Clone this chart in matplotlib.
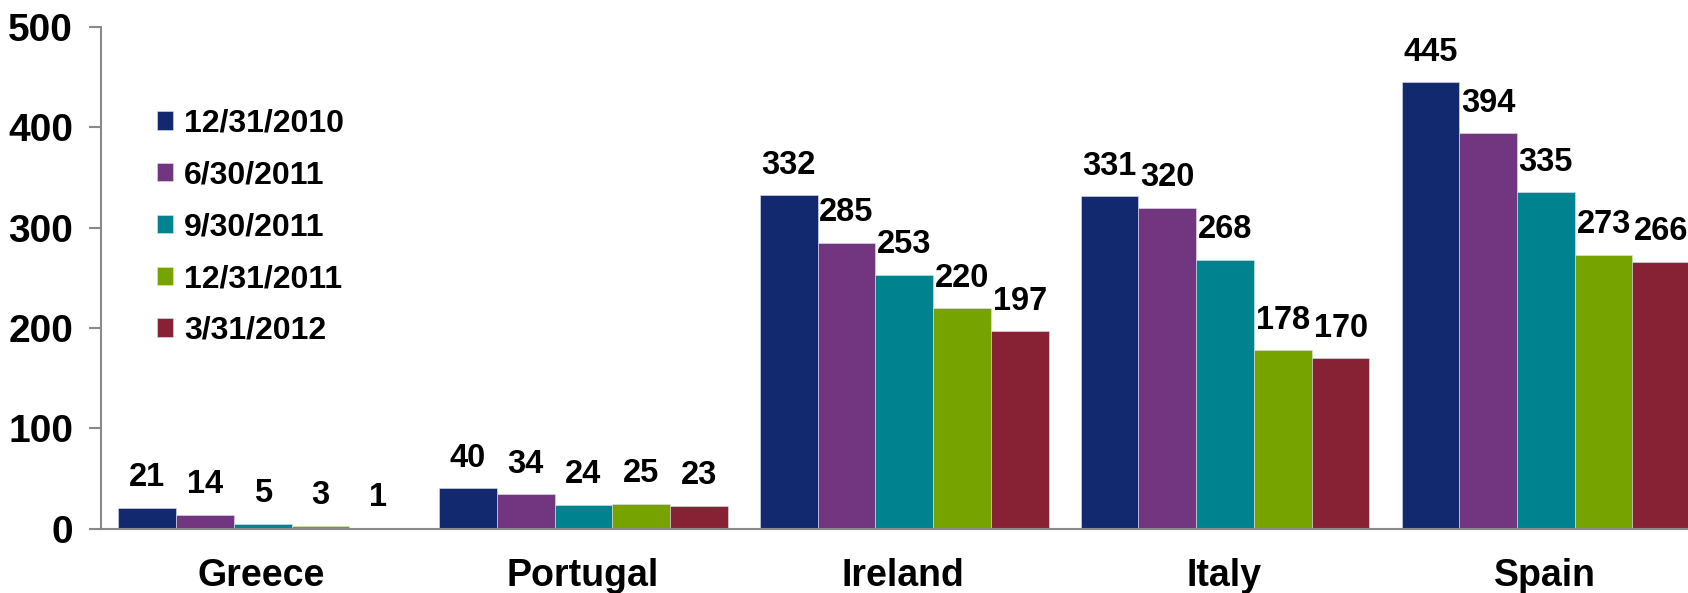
import matplotlib.pyplot as plt
import numpy as np

plt.rcParams['font.family'] = ['Liberation Sans', 'DejaVu Sans']
plt.rcParams['font.weight'] = 'bold'

countries = ['Greece', 'Portugal', 'Ireland', 'Italy', 'Spain']
dates = ['12/31/2010', '6/30/2011', '9/30/2011', '12/31/2011', '3/31/2012']
v_dec2010 = [21, 40, 332, 331, 445]
v_jun2011 = [14, 34, 285, 320, 394]
v_sep2011 = [5, 24, 253, 268, 335]
v_dec2011 = [3, 25, 220, 178, 273]
v_mar2012 = [1, 23, 197, 170, 266]
series = [v_dec2010, v_jun2011, v_sep2011, v_dec2011, v_mar2012]
colors = ['#13296F', '#72357F', '#00838F', '#76A300', '#862234']

fig = plt.figure(figsize=(16.88, 5.93), dpi=100)
# axes run a little past the right edge of the figure, as in the original
ax = fig.add_axes([101 / 1688, 0.1086, 1604 / 1688, 0.846])

x = np.arange(len(countries))
w = 0.9 / 5
for i, (vals, c, lab) in enumerate(zip(series, colors, dates)):
    pos = x - 0.9 / 2 + w * (i + 0.5) + 0.004
    ax.bar(pos, vals, width=w, color=c, label=lab, edgecolor='#dfe3ea', linewidth=0.4)
    for p, v in zip(pos, vals):
        ax.annotate(str(v), (p, v), xytext=(0, 21.5), textcoords='offset points',
                    ha='center', va='center', fontsize=23.5, fontweight='bold')

ax.set_xlim(-0.5, 4.5)
ax.set_ylim(0, 500)
ax.set_yticks(range(0, 501, 100))
ax.set_xticks(x)
ax.set_xticklabels(countries, fontsize=27, fontweight='bold')
ax.tick_params(axis='x', length=0, pad=21)
ax.tick_params(axis='y', labelsize=28, length=9, width=1.5, color='#898989', pad=11)
for lbl in ax.get_yticklabels():
    lbl.set_fontweight('bold')

for s in ['top', 'right']:
    ax.spines[s].set_visible(False)
for s in ['left', 'bottom']:
    ax.spines[s].set_color('#898989')
    ax.spines[s].set_linewidth(1.5)

leg = ax.legend(loc='upper left', bbox_to_anchor=(0.027, 0.862), frameon=False,
                prop={'size': 23, 'weight': 'bold'}, handlelength=0.5, handleheight=0.5,
                handletextpad=0.35, labelspacing=0.68, borderaxespad=0)

fig.savefig('out.png', dpi=100)
